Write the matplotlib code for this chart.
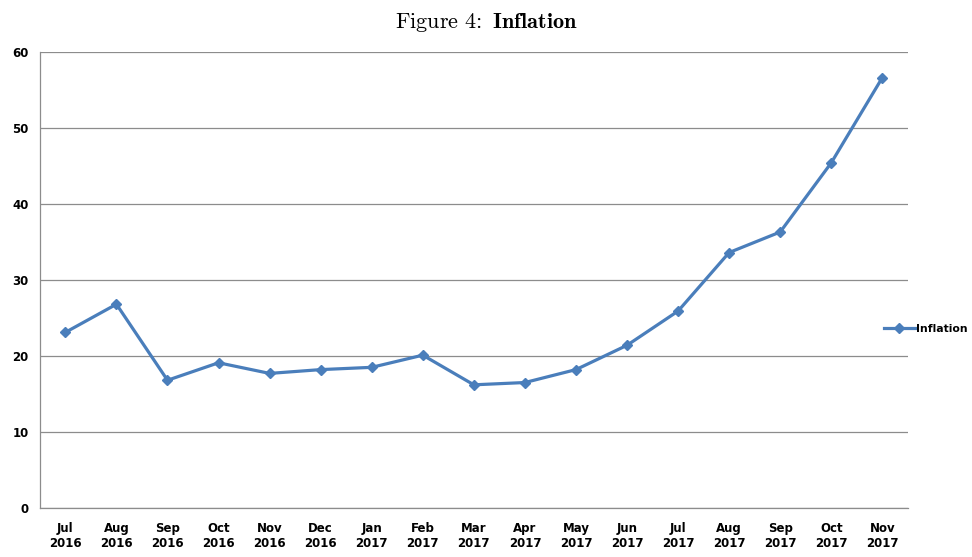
import numpy as np
import matplotlib
matplotlib.use('Agg')
import matplotlib.pyplot as plt

plt.rcParams['mathtext.fontset'] = 'cm'

months = ['Jul\n2016', 'Aug\n2016', 'Sep\n2016', 'Oct\n2016', 'Nov\n2016', 'Dec\n2016',
          'Jan\n2017', 'Feb\n2017', 'Mar\n2017', 'Apr\n2017', 'May\n2017', 'Jun\n2017',
          'Jul\n2017', 'Aug\n2017', 'Sep\n2017', 'Oct\n2017', 'Nov\n2017']
inflation = [23.1, 26.8, 16.8, 19.1, 17.7, 18.2, 18.5, 20.1, 16.2, 16.5, 18.2, 21.4,
             25.9, 33.6, 36.3, 45.4, 56.6]

fig = plt.figure(figsize=(9.72, 5.57), dpi=100)
ax = fig.add_axes([0.041, 0.088, 0.893, 0.819])

x = np.arange(len(months))
ax.plot(x, inflation, '-', color='#4a7ebb', lw=2.3, marker='D', ms=5, label='Inflation')

ax.set_xlim(-0.5, len(months) - 0.5)
ax.set_ylim(0, 60)
ax.set_yticks(np.arange(0, 61, 10))
ax.set_xticks(x)
ax.set_xticklabels(months)
for lbl in ax.get_xticklabels() + ax.get_yticklabels():
    lbl.set_fontweight('bold')
    lbl.set_fontsize(8.5)
ax.tick_params(length=0, pad=8)
ax.tick_params(axis='x', pad=10)
ax.grid(axis='y', color='#8c8c8c', lw=0.9)
ax.set_axisbelow(True)
for s in ['top', 'right']:
    ax.spines[s].set_visible(False)
for s in ['left', 'bottom']:
    ax.spines[s].set_color('#8c8c8c')
    ax.spines[s].set_linewidth(0.9)

leg = ax.legend(loc='center left', bbox_to_anchor=(0.972, 0.3925), frameon=False,
                handlelength=2.9, handletextpad=0.05, borderaxespad=0, borderpad=0,
                prop={'weight': 'bold', 'size': 7.8})

fig.text(0.5, 0.96, r'$\mathrm{Figure\ 4}\!:\ \mathbf{Inflation}$', ha='center',
         va='center', fontsize=16)

fig.savefig('out.png', dpi=100)
